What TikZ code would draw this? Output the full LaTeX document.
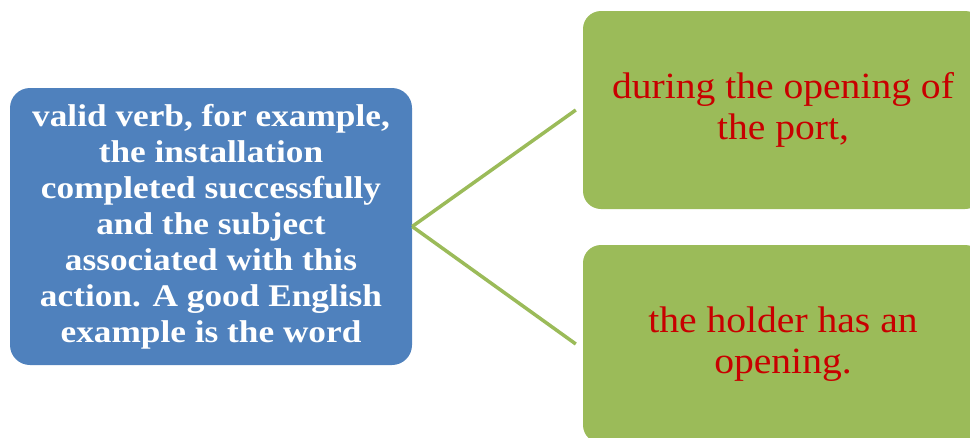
\documentclass[tikz,border=0pt]{standalone}
\usepackage{fontspec}
\newfontfamily\bluefont[FakeStretch=1.12]{Liberation Serif}
\newfontfamily\redfont[FakeStretch=1.07]{Liberation Serif}
\definecolor{boxblue}{RGB}{79,129,189}
\definecolor{boxgreen}{RGB}{155,187,89}
\definecolor{txtred}{RGB}{200,0,0}
\tikzset{
  bluebox/.style={fill=boxblue, draw=none, rounded corners=20pt, inner sep=0pt,
    minimum width=402pt, minimum height=277pt, align=center, text=white,
    font=\bluefont\bfseries\fontsize{31.5}{36}\selectfont},
  greenbox/.style={fill=boxgreen, draw=none, rounded corners=18pt, inner sep=0pt,
    minimum width=400pt, minimum height=198pt, align=center, text=txtred,
    font=\redfont\fontsize{37}{41}\selectfont},
  link/.style={draw=boxgreen, line width=3.5pt}
}
\begin{document}
\begin{tikzpicture}[x=1pt,y=-1pt]
\useasboundingbox (0,0) rectangle (970,437);
\node[bluebox] (src) at (211,226.5) {valid verb, for example,\\the installation\\completed successfully\\and the subject\\associated with this\\action. A good English\\example is the word};
\node[greenbox] (top) at (783,110) {during the opening of\\the port,};
\node[greenbox] (bot) at (783,344) {the holder has an\\opening.};
\coordinate (topend) at ([xshift=-7pt]top.west);
\coordinate (botend) at ([xshift=-7pt]bot.west);
\draw[link] (src.east) -- (topend);
\draw[link] (src.east) -- (botend);
\end{tikzpicture}
\end{document}
